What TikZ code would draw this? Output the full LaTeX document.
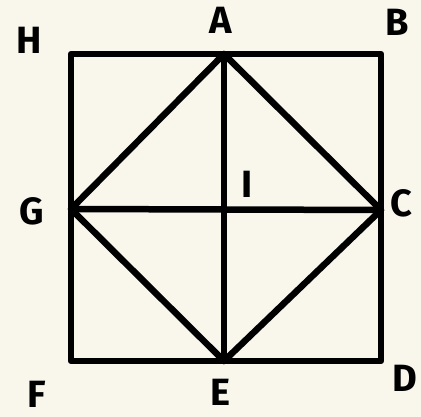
\documentclass[tikz,border=0pt]{standalone}
\usepackage{fontspec}
\setmainfont{Fira Sans}
\definecolor{bgc}{RGB}{249,247,236}
\tikzset{
  edge/.style={line width=6.5pt, line join=round, line cap=round, black},
  lbl/.style={font=\fontsize{38}{38}\selectfont\bfseries, inner sep=0pt, anchor=center}
}
\begin{document}
\begin{tikzpicture}[x=1pt,y=-1pt]
\fill[bgc] (0,0) rectangle (421,417);
\useasboundingbox (0,0) rectangle (421,417);
\coordinate (H) at (71,54);
\coordinate (B) at (381,54);
\coordinate (D) at (381,361);
\coordinate (F) at (71,361);
\coordinate (A) at (224,54);
\coordinate (E) at (224,361);
\coordinate (G) at (71,209);
\coordinate (C) at (381,210);
\coordinate (I) at (224,210);
\draw[edge] (H) -- (B) -- (D) -- (F) -- cycle;
\draw[edge] (A) -- (C) -- (E) -- (G) -- cycle;
\draw[edge] (A) -- (E);
\draw[edge] (G) -- (C);
\node[lbl] (lH) at (29,40) {H};
\node[lbl] (lA) at (221,20) {A};
\node[lbl] (lB) at (397,22) {B};
\node[lbl] (lG) at (32,211) {G};
\node[lbl] (lC) at (401,203) {C};
\node[lbl] (lF) at (37,394) {F};
\node[lbl] (lE) at (220,392) {E};
\node[lbl] (lD) at (405,378) {D};
\node[lbl] (lI) at (247,184) {I};
\end{tikzpicture}
\end{document}
